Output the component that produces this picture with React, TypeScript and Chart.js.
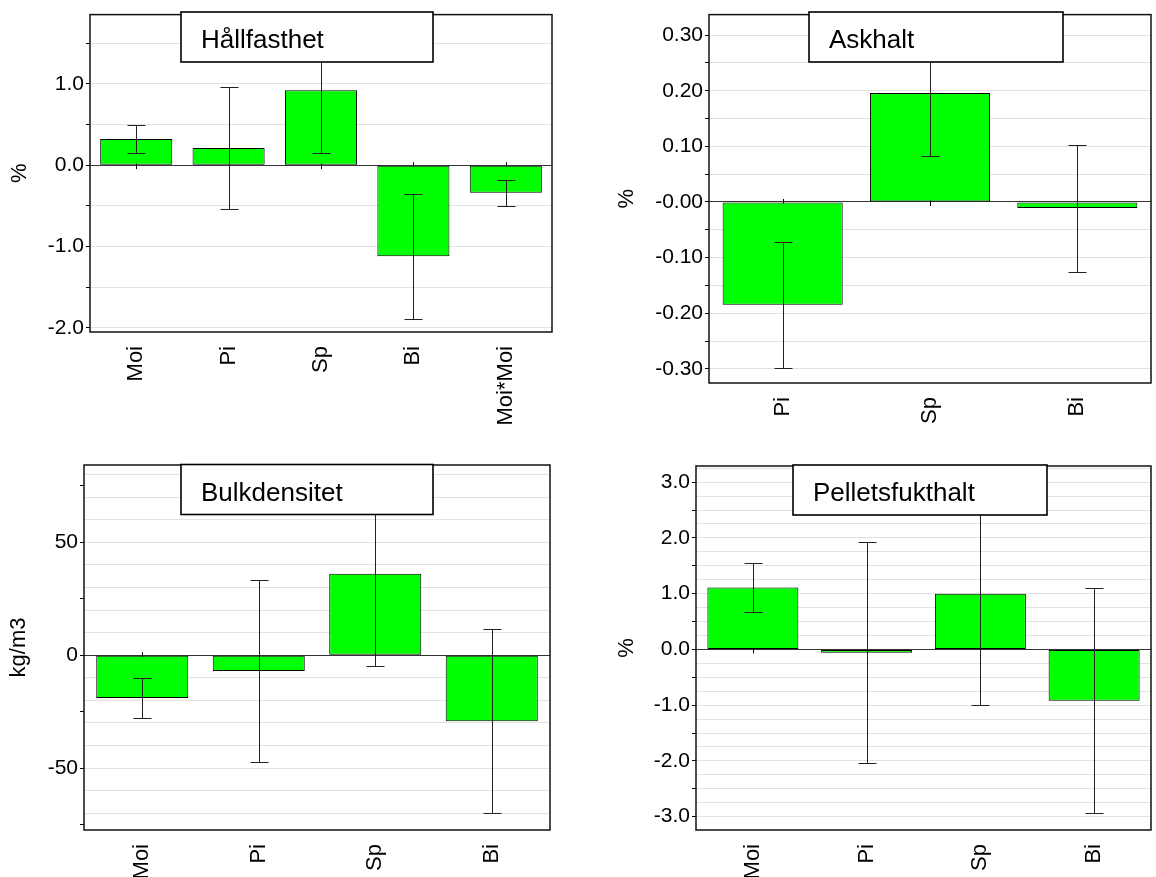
import React, { useEffect, useRef } from 'react';
import { Chart, registerables } from 'chart.js';

Chart.register(...registerables);

const FONT = '"Liberation Sans", Arial, Helvetica, sans-serif';

// ---- Data ----
const hallCategories = ['Moi', 'Pi', 'Sp', 'Bi', 'Moi*Moi'];
const hallValues = [0.32, 0.21, 0.92, -1.12, -0.34];
const hallErrors = [0.17, 0.75, 0.77, 0.765, 0.16];

const askCategories = ['Pi', 'Sp', 'Bi'];
const askValues = [-0.185, 0.196, -0.011];
const askErrors = [0.113, 0.114, 0.114];

const bulkCategories = ['Moi', 'Pi', 'Sp', 'Bi'];
const bulkValues = [-19, -7, 36, -29.2];
const bulkErrors = [9, 40.5, 41, 40.8];

const fuktCategories = ['Moi', 'Pi', 'Sp', 'Bi'];
const fuktValues = [1.11, -0.06, 1.0, -0.92];
const fuktErrors = [0.44, 1.985, 2.0, 2.02];

type Panel = {
  title: string;
  yTitle: string;
  categories: string[];
  values: number[];
  errors: number[];
  min: number;
  max: number;
  gridStep: number;
  tickStep: number;
  labelStep: number;
  decimals: number;
  zeroLabel: string;
  // layout
  left: number;
  top: number;
  width: number;
  height: number;
  padTop: number;
  padRight: number;
  yWidth: number;
  xHeight: number;
  yTitlePad: number;
  barPct: number;
  box: { x: number; y: number; w: number; h: number };
};

const panels: Panel[] = [
  {
    title: 'Hållfasthet', yTitle: '%',
    categories: hallCategories, values: hallValues, errors: hallErrors,
    min: -2.05, max: 1.85, gridStep: 0.5, tickStep: 0.5, labelStep: 1, decimals: 1, zeroLabel: '0.0',
    left: 0, top: 0, width: 578, height: 440,
    padTop: 12, padRight: 26, yWidth: 90, xHeight: 108, yTitlePad: 7, barPct: 0.78,
    box: { x: 181, y: 12, w: 252, h: 50 },
  },
  {
    title: 'Askhalt', yTitle: '%',
    categories: askCategories, values: askValues, errors: askErrors,
    min: -0.3255, max: 0.337, gridStep: 0.05, tickStep: 0.05, labelStep: 0.1, decimals: 2, zeroLabel: '-0.00',
    left: 578, top: 0, width: 578, height: 440,
    padTop: 12, padRight: 5, yWidth: 131, xHeight: 57, yTitlePad: 36, barPct: 0.815,
    box: { x: 231, y: 12, w: 254, h: 50 },
  },
  {
    title: 'Bulkdensitet', yTitle: 'kg/m3',
    categories: bulkCategories, values: bulkValues, errors: bulkErrors,
    min: -77.4, max: 84.2, gridStep: 10, tickStep: 25, labelStep: 50, decimals: 0, zeroLabel: '0',
    left: 0, top: 440, width: 578, height: 437,
    padTop: 25, padRight: 28, yWidth: 84, xHeight: 47, yTitlePad: 6, barPct: 0.79,
    box: { x: 181, y: 24.5, w: 252, h: 50 },
  },
  {
    title: 'Pelletsfukthalt', yTitle: '%',
    categories: fuktCategories, values: fuktValues, errors: fuktErrors,
    min: -3.24, max: 3.29, gridStep: 0.25, tickStep: 0.5, labelStep: 1, decimals: 1, zeroLabel: '0.0',
    left: 578, top: 440, width: 578, height: 437,
    padTop: 26, padRight: 5, yWidth: 118, xHeight: 47, yTitlePad: 36, barPct: 0.8,
    box: { x: 215, y: 25, w: 254, h: 50 },
  },
];

const isMult = (v: number, step: number) => Math.abs(v / step - Math.round(v / step)) < 1e-6;

function buildTickValues(p: Panel): number[] {
  const set: number[] = [];
  const add = (step: number) => {
    const k0 = Math.ceil(p.min / step - 1e-9);
    const k1 = Math.floor(p.max / step + 1e-9);
    for (let k = k0; k <= k1; k++) {
      const v = Math.round(k * step * 1e6) / 1e6;
      if (!set.some((s) => Math.abs(s - v) < 1e-9)) set.push(v);
    }
  };
  add(p.gridStep);
  add(p.tickStep);
  return set.sort((a, b) => a - b);
}

function makeDecor(p: Panel) {
  return {
    id: 'decor',
    beforeDatasetsDraw(chart: any) {
      const ctx = chart.ctx;
      const ys = chart.scales.y;
      const meta = chart.getDatasetMeta(0);
      const y0 = ys.getPixelForValue(0);
      ctx.save();
      ctx.strokeStyle = '#000';
      ctx.lineWidth = 1;
      meta.data.forEach((el: any) => {
        const x = Math.round(el.x) + 0.5;
        ctx.beginPath();
        ctx.moveTo(x, y0 - 3);
        ctx.lineTo(x, y0 + 4);
        ctx.stroke();
      });
      ctx.restore();
    },
    afterDatasetsDraw(chart: any) {
      const ctx = chart.ctx;
      const ys = chart.scales.y;
      const meta = chart.getDatasetMeta(0);
      ctx.save();
      ctx.strokeStyle = '#222';
      ctx.lineWidth = 1;
      meta.data.forEach((el: any, i: number) => {
        const v = p.values[i];
        const e = p.errors[i];
        const x = Math.round(el.x) + 0.5;
        const yt = Math.round(ys.getPixelForValue(v + e)) + 0.5;
        const yb = Math.round(ys.getPixelForValue(v - e)) + 0.5;
        const cap = 9;
        ctx.beginPath();
        ctx.moveTo(x, yt);
        ctx.lineTo(x, yb);
        ctx.moveTo(x - cap, yt);
        ctx.lineTo(x + cap, yt);
        ctx.moveTo(x - cap, yb);
        ctx.lineTo(x + cap, yb);
        ctx.stroke();
      });
      ctx.restore();
    },
    afterDraw(chart: any) {
      const ctx = chart.ctx;
      const a = chart.chartArea;
      ctx.save();
      ctx.strokeStyle = '#111';
      ctx.lineWidth = 1.5;
      ctx.strokeRect(a.left, a.top, a.right - a.left, a.bottom - a.top);
      const b = p.box;
      ctx.fillStyle = '#fff';
      ctx.fillRect(b.x, b.y, b.w, b.h);
      ctx.lineWidth = 1.6;
      ctx.strokeStyle = '#000';
      ctx.strokeRect(b.x, b.y, b.w, b.h);
      ctx.fillStyle = '#000';
      ctx.font = `26px ${FONT}`;
      ctx.textAlign = 'left';
      ctx.textBaseline = 'alphabetic';
      ctx.fillText(p.title, b.x + 20, b.y + 36);
      ctx.restore();
    },
  };
}

function PanelChart({ p }: { p: Panel }) {
  const ref = useRef<HTMLCanvasElement | null>(null);
  useEffect(() => {
    if (!ref.current) return;
    const tickValues = buildTickValues(p);
    const chart = new Chart(ref.current, {
      type: 'bar',
      data: {
        labels: p.categories,
        datasets: [
          {
            data: p.values,
            backgroundColor: '#00ff00',
            borderColor: '#000',
            borderWidth: 1,
            borderSkipped: false,
            barPercentage: p.barPct,
            categoryPercentage: 1,
          },
        ],
      },
      options: {
        animation: false,
        responsive: false,
        devicePixelRatio: 1,
        layout: { padding: { top: p.padTop, right: p.padRight, left: 0, bottom: 0 } },
        plugins: { legend: { display: false }, tooltip: { enabled: false }, title: { display: false } },
        scales: {
          x: {
            grid: { display: false, drawTicks: false },
            border: { display: false },
            ticks: {
              autoSkip: false,
              minRotation: 90,
              maxRotation: 90,
              padding: 14,
              color: '#000',
              font: { family: FONT, size: 22 },
            },
            afterFit: (s: any) => {
              s.height = p.xHeight;
            },
          },
          y: {
            min: p.min,
            max: p.max,
            afterBuildTicks: (s: any) => {
              s.ticks = tickValues.map((v) => ({ value: v }));
            },
            ticks: {
              autoSkip: false,
              padding: 2,
              color: '#000',
              font: { family: FONT, size: 21 },
              callback: (val: any) => {
                const v = Number(val);
                if (!isMult(v, p.labelStep)) return '';
                if (Math.abs(v) < 1e-9) return p.zeroLabel;
                return v.toFixed(p.decimals);
              },
            },
            grid: {
              lineWidth: 1,
              tickLength: 4,
              color: (c: any) => {
                const v = c.tick ? c.tick.value : NaN;
                if (Math.abs(v) < 1e-9) return '#333';
                return isMult(v, p.gridStep) ? '#e2e2e2' : 'rgba(0,0,0,0)';
              },
              tickColor: (c: any) => {
                const v = c.tick ? c.tick.value : NaN;
                return isMult(v, p.tickStep) ? '#000' : 'rgba(0,0,0,0)';
              },
            },
            border: { display: false },
            title: {
              display: true,
              text: p.yTitle,
              color: '#000',
              font: { family: FONT, size: 22 },
              padding: { top: p.yTitlePad, bottom: 0 },
            },
            afterFit: (s: any) => {
              s.width = p.yWidth;
            },
          },
        },
      },
      plugins: [makeDecor(p)],
    } as any);
    return () => chart.destroy();
  }, [p]);
  return (
    <div style={{ position: 'absolute', left: p.left, top: p.top, width: p.width, height: p.height }}>
      <canvas ref={ref} width={p.width} height={p.height} style={{ display: 'block' }} />
    </div>
  );
}

export default function App() {
  return (
    <div style={{ position: 'absolute', left: 0, top: 0, width: 1156, height: 877, background: '#fff', overflow: 'hidden' }}>
      {panels.map((p) => (
        <PanelChart key={p.title} p={p} />
      ))}
    </div>
  );
}
